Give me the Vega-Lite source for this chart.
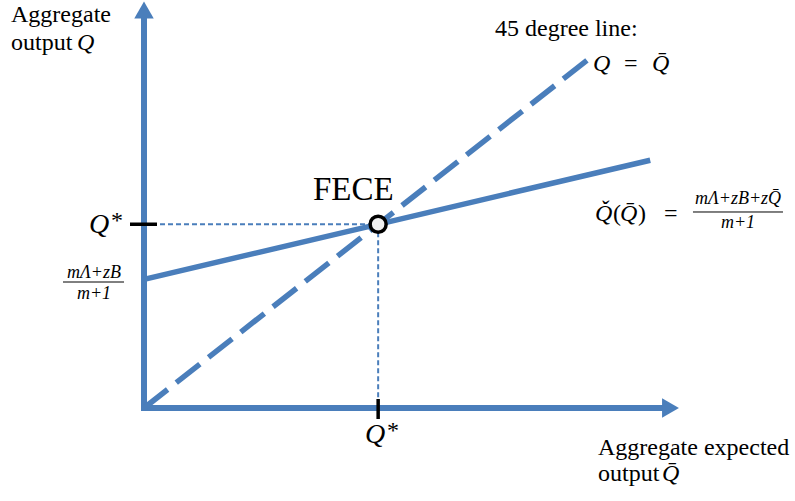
{
  "$schema": "https://vega.github.io/schema/vega-lite/v6.json",
  "autosize": {"type": "fit", "contains": "padding"},
  "width": 795,
  "height": 501,
  "padding": 0,
  "background": "white",
  "config": {"view": {"stroke": null}},
  "datasets": {
    "axes": [
      {"seg": "y", "x": 0, "y": 0}, {"seg": "y", "x": 0, "y": 112},
      {"seg": "x", "x": 0, "y": 0}, {"seg": "x", "x": 117, "y": 0}
    ],
    "arrows": [
      {"dir": "up", "x": 0, "y": 113.7},
      {"dir": "right", "x": 118.05, "y": 0}
    ],
    "diag": [{"x": 0, "y": 0}, {"x": 100, "y": 100}],
    "response": [{"x": 0, "y": 36.75}, {"x": 113.5, "y": 70.8}],
    "guides": [
      {"seg": "h", "x": 0, "y": 52.5}, {"seg": "h", "x": 52.5, "y": 52.5},
      {"seg": "v", "x": 52.5, "y": 52.5}, {"seg": "v", "x": 52.5, "y": 0}
    ],
    "ticks": [
      {"x": -3.14, "x2": 2.91, "y": 52.5, "y2": 52.5},
      {"x": 52.5, "x2": 52.5, "y": 2.57, "y2": -3.14}
    ],
    "bars": [
      {"x": 123.09, "x2": 143.27, "y": 56.0},
      {"x": -18.16, "x2": -4.48, "y": 36.0}
    ],
    "fece": [{"x": 52.5, "y": 52.5}],
    "plain": [
      {"t": "Aggregate", "x": -29.82, "y": 110.29},
      {"t": "output", "x": -29.82, "y": 102.29},
      {"t": "45 degree line:", "x": 78.70, "y": 106.29},
      {"t": "=", "x": 107.62, "y": 96.29},
      {"t": "(", "x": 105.16, "y": 53.43},
      {"t": ")", "x": 110.76, "y": 53.43},
      {"t": "=", "x": 116.59, "y": 53.43},
      {"t": "Aggregate expected", "x": 101.79, "y": -13.43},
      {"t": "output", "x": 101.79, "y": -20.86}
    ],
    "stars": [
      {"t": "*", "x": -7.4, "y": 51.4},
      {"t": "*", "x": 54.5, "y": -8.6}
    ],
    "ital": [
      {"t": "Q", "x": -15.02, "y": 102.29},
      {"t": "Q", "x": 100.67, "y": 96.29},
      {"t": "Q̄", "x": 113.90, "y": 96.29},
      {"t": "Q̌", "x": 101.12, "y": 53.43},
      {"t": "Q̄", "x": 106.73, "y": 53.43},
      {"t": "Q̄", "x": 116.15, "y": -20.86}
    ],
    "qstar": [
      {"t": "Q", "x": -12.33, "y": 50.0},
      {"t": "Q", "x": 49.55, "y": -10.0}
    ],
    "frac": [
      {"t": "mΛ+zB+zQ̄", "x": 133.18, "y": 58.29},
      {"t": "m+1", "x": 133.18, "y": 51.43},
      {"t": "mΛ+zB", "x": -11.21, "y": 37.14},
      {"t": "m+1", "x": -11.21, "y": 31.14}
    ],
    "big": [{"t": "FECE", "x": 37.89, "y": 59.43}]
  },
  "encoding": {
    "x": {"field": "x", "type": "quantitative", "axis": null,
          "scale": {"domain": [-32.287, 145.964], "nice": false, "zero": false}},
    "y": {"field": "y", "type": "quantitative", "axis": null,
          "scale": {"domain": [-26.571, 116.571], "nice": false, "zero": false}}
  },
  "layer": [
    {
      "data": {"name": "guides"},
      "mark": {"type": "line", "color": "#4a7ebb", "strokeWidth": 2, "strokeDash": [5, 3]},
      "encoding": {"detail": {"field": "seg"}}
    },
    {
      "data": {"name": "axes"},
      "mark": {"type": "line", "color": "#4a7ebb", "strokeWidth": 6, "strokeCap": "square"},
      "encoding": {"detail": {"field": "seg"}}
    },
    {
      "data": {"name": "arrows"},
      "mark": {"type": "point", "filled": true, "color": "#4a7ebb", "opacity": 1, "size": 380},
      "encoding": {
        "shape": {"field": "dir", "legend": null,
                  "scale": {"domain": ["up", "right"], "range": ["triangle-up", "triangle-right"]}}
      }
    },
    {
      "data": {"name": "diag"},
      "mark": {"type": "line", "color": "#4a7ebb", "strokeWidth": 5.5, "strokeDash": [30, 11]},
      "encoding": {}
    },
    {
      "data": {"name": "response"},
      "mark": {"type": "line", "color": "#4a7ebb", "strokeWidth": 5.5},
      "encoding": {}
    },
    {
      "data": {"name": "ticks"},
      "mark": {"type": "rule", "color": "black", "strokeWidth": 3.5},
      "encoding": {
        "x2": {"field": "x2"},
        "y2": {"field": "y2"}
      }
    },
    {
      "data": {"name": "bars"},
      "mark": {"type": "rule", "color": "black", "strokeWidth": 1},
      "encoding": {"x2": {"field": "x2"}}
    },
    {
      "data": {"name": "fece"},
      "mark": {"type": "point", "shape": "circle", "filled": false, "fill": "#f0f0f0", "fillOpacity": 1,
               "stroke": "black", "strokeWidth": 3.5, "opacity": 1, "size": 256},
      "encoding": {}
    },
    {
      "data": {"name": "plain"},
      "mark": {"type": "text", "font": "Liberation Serif", "fontSize": 24, "align": "left",
               "baseline": "alphabetic", "color": "black"},
      "encoding": {"text": {"field": "t"}}
    },
    {
      "data": {"name": "stars"},
      "mark": {"type": "text", "font": "Liberation Serif", "fontSize": 24, "align": "left",
               "baseline": "alphabetic", "color": "black"},
      "encoding": {"text": {"field": "t"}}
    },
    {
      "data": {"name": "ital"},
      "mark": {"type": "text", "font": "Liberation Serif", "fontSize": 24, "fontStyle": "italic",
               "align": "left", "baseline": "alphabetic", "color": "black"},
      "encoding": {"text": {"field": "t"}}
    },
    {
      "data": {"name": "qstar"},
      "mark": {"type": "text", "font": "Liberation Serif", "fontSize": 28, "fontStyle": "italic",
               "align": "left", "baseline": "alphabetic", "color": "black"},
      "encoding": {"text": {"field": "t"}}
    },
    {
      "data": {"name": "frac"},
      "mark": {"type": "text", "font": "Liberation Serif", "fontSize": 18, "fontStyle": "italic",
               "align": "center", "baseline": "alphabetic", "color": "black"},
      "encoding": {"text": {"field": "t"}}
    },
    {
      "data": {"name": "big"},
      "mark": {"type": "text", "font": "Liberation Serif", "fontSize": 33, "align": "left",
               "baseline": "alphabetic", "color": "black"},
      "encoding": {"text": {"field": "t"}}
    }
  ]
}
